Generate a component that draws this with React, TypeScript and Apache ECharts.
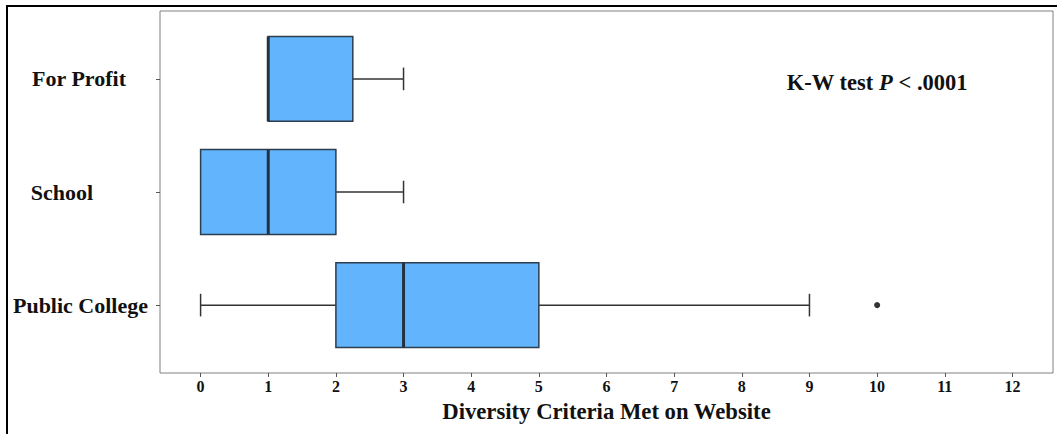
import React, { useEffect, useRef } from "react";
import * as echarts from "echarts";

// Categories from bottom to top
const categories = ["Public College", "School", "For Profit"];
// Boxplot statistics: [min, Q1, median, Q3, max]
const publicCollege = [0, 2, 3, 5, 9];
const school = [0, 0, 1, 2, 3];
const forProfit = [1, 1, 1, 2.25, 3];
const boxStats = [publicCollege, school, forProfit];
// Outliers: [value, category index]
const outliers = [[10, 0]];
const xTicks = [0, 1, 2, 3, 4, 5, 6, 7, 8, 9, 10, 11, 12];
const xTitle = "Diversity Criteria Met on Website";
const annotationPos = [10, 2];

const FONT = "'Liberation Serif', 'Times New Roman', serif";
const labelPad: Record<string, number> = {
  "Public College": 0,
  School: 55,
  "For Profit": 22,
};
const richKey: Record<string, string> = {
  "Public College": "pc",
  School: "sc",
  "For Profit": "fp",
};

export default function App() {
  const ref = useRef<HTMLDivElement>(null);
  useEffect(() => {
    if (!ref.current) return;
    const chart = echarts.init(ref.current, null, { renderer: "svg" });
    const half = 0.375;
    const cap = 0.1;
    const richBase = { fontFamily: FONT, fontWeight: "bold", fontSize: 22, color: "#111" };
    const rich: any = {};
    categories.forEach((c) => {
      rich[richKey[c]] = { ...richBase, padding: [0, labelPad[c], 0, 0] };
    });
    chart.setOption({
      animation: false,
      grid: {
        left: 160,
        top: 11,
        right: 4,
        bottom: 61,
        show: true,
        borderColor: "#808080",
        borderWidth: 1,
      },
      xAxis: {
        type: "value",
        min: -0.6,
        max: 12.6,
        axisLine: { show: false, onZero: false },
        splitLine: { show: false },
        axisTick: {
          show: true,
          length: 4,
          customValues: xTicks,
          lineStyle: { color: "#555" },
        },
        axisLabel: {
          customValues: xTicks,
          margin: 5,
          fontFamily: FONT,
          fontWeight: "bold",
          fontSize: 16,
          color: "#111",
        },
        name: xTitle,
        nameLocation: "middle",
        nameGap: 27,
        nameTextStyle: {
          fontFamily: FONT,
          fontWeight: "bold",
          fontSize: 22.7,
          color: "#111",
        },
      },
      yAxis: {
        type: "value",
        min: 0.4,
        max: 3.6,
        axisLine: { show: false, onZero: false },
        splitLine: { show: false },
        axisTick: {
          show: true,
          length: 4,
          customValues: [1, 2, 3],
          lineStyle: { color: "#555" },
        },
        axisLabel: {
          customValues: [1, 2, 3],
          margin: 12,
          formatter: (v: number) => {
            const c = categories[Math.round(v) - 1];
            return c ? `{${richKey[c]}|${c}}` : "";
          },
          rich,
        },
      },
      graphic: [
        {
          type: "polyline",
          shape: { points: [[7, 434], [7, 6], [1057, 6]] },
          style: { stroke: "#000", lineWidth: 2, fill: null },
          z: 100,
        },
      ],
      series: [
        {
          type: "custom",
          data: boxStats.map((s, i) => [i + 1, ...s]),
          encode: { x: [1, 2, 3, 4, 5], y: 0 },
          renderItem: (params: any, api: any) => {
            const yi = api.value(0);
            const mn = api.value(1);
            const q1 = api.value(2);
            const md = api.value(3);
            const q3 = api.value(4);
            const mx = api.value(5);
            const yc = api.coord([0, yi])[1];
            const yTop = api.coord([0, yi + half])[1];
            const yBot = api.coord([0, yi - half])[1];
            const cTop = api.coord([0, yi + cap])[1];
            const cBot = api.coord([0, yi - cap])[1];
            const X = (v: number) => api.coord([v, yi])[0];
            const wStyle = { stroke: "#333", lineWidth: 1.5 };
            const children: any[] = [];
            if (mn < q1) {
              children.push({ type: "line", shape: { x1: X(mn), y1: yc, x2: X(q1), y2: yc }, style: wStyle });
              children.push({ type: "line", shape: { x1: X(mn), y1: cTop, x2: X(mn), y2: cBot }, style: wStyle });
            }
            if (mx > q3) {
              children.push({ type: "line", shape: { x1: X(q3), y1: yc, x2: X(mx), y2: yc }, style: wStyle });
              children.push({ type: "line", shape: { x1: X(mx), y1: cTop, x2: X(mx), y2: cBot }, style: wStyle });
            }
            children.push({
              type: "rect",
              shape: { x: X(q1), y: yTop, width: X(q3) - X(q1), height: yBot - yTop },
              style: { fill: "#62B4FD", stroke: "#2c3d4e", lineWidth: 1.5 },
            });
            children.push({
              type: "line",
              shape: { x1: X(md), y1: yTop, x2: X(md), y2: yBot },
              style: { stroke: "#24323f", lineWidth: 3 },
            });
            return { type: "group", children };
          },
        },
        {
          type: "scatter",
          data: outliers.map((o) => [o[0], o[1] + 1]),
          symbolSize: 6,
          itemStyle: { color: "#333", opacity: 1 },
        },
        {
          type: "custom",
          data: [[annotationPos[0], annotationPos[1] + 1]],
          encode: { x: 0, y: 1 },
          renderItem: (params: any, api: any) => {
            const p = api.coord([api.value(0), api.value(1)]);
            return {
              type: "text",
              x: p[0],
              y: p[1] + 4,
              style: {
                text: "{b|K-W test }{i|P}{b| < .0001}",
                align: "center",
                verticalAlign: "middle",
                rich: {
                  b: { fontFamily: FONT, fontWeight: "bold", fontSize: 22.5, fill: "#111" },
                  i: { fontFamily: FONT, fontWeight: "bold", fontStyle: "italic", fontSize: 22.5, fill: "#111" },
                },
              },
            };
          },
        },
      ],
    });
    return () => chart.dispose();
  }, []);
  return (
    <div
      ref={ref}
      style={{ position: "fixed", left: 0, top: 0, width: 1057, height: 434, background: "#fff" }}
    />
  );
}
